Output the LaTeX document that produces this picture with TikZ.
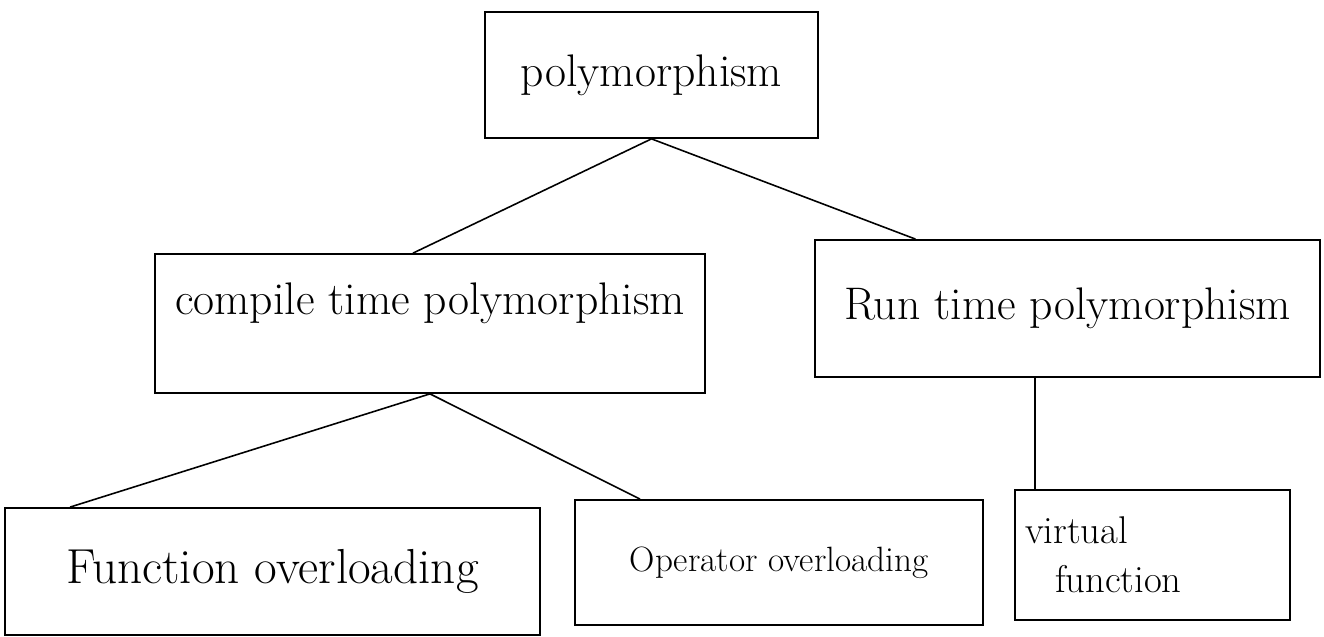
\documentclass[tikz,border=0pt]{standalone}
\usepackage{tikz}
\usetikzlibrary{positioning}
\tikzset{box/.style = {draw, line width = 1pt, inner sep = 0, align = center}}
\tikzset{link/.style = {line width = 0.9pt}}
\newcommand{\bigtxt}{\fontsize{26}{30}\selectfont}
\newcommand{\smalltxt}{\fontsize{20}{28}\selectfont}

\begin{document}
\begin{tikzpicture}
      \useasboundingbox (0, 0) rectangle (26.48, 12.74);

      \node [box, minimum width = 6.66cm, minimum height = 2.52cm, font = \bigtxt] (poly) at (13.03, 11.24) {polymorphism};
      \node [box, minimum width = 11cm, minimum height = 2.78cm, font = \bigtxt, text depth = 1cm] (compile) at (8.6, 6.27) {compile time polymorphism};
      \node [box, minimum width = 10.1cm, minimum height = 2.74cm, font = \bigtxt] (runtime) at (21.35, 6.57) {Run time polymorphism};

      \node [box, minimum width = 10.7cm, minimum height = 2.54cm, font = \fontsize{28}{32}\selectfont] (funcover) at (5.45, 1.31) {Function overloading};
      \node [box, minimum width = 8.16cm, minimum height = 2.5cm, font = \smalltxt] (operover) at (15.58, 1.49) {Operator overloading};
      \node [box, minimum width = 5.5cm, minimum height = 2.6cm, font = \fontsize{22}{28}\selectfont, text width = 5.1cm, align = left] (virtfunc) at (23.05, 1.64) {virtual\\ \hspace*{0.6cm}function};

      \draw [link] (poly.south) -- ([xshift = -0.34cm] compile.north);
      \draw [link] (poly.south) -- ([xshift = -3.04cm] runtime.north);
      \draw [link] (compile.south) -- ([xshift = -4.05cm] funcover.north);
      \draw [link] (compile.south) -- ([xshift = -2.78cm] operover.north);

      \coordinate (rt) at ([xshift = -0.65cm] runtime.south);
      \draw [link] (rt) -- (rt |- virtfunc.north);
    \end{tikzpicture}
\end{document}
